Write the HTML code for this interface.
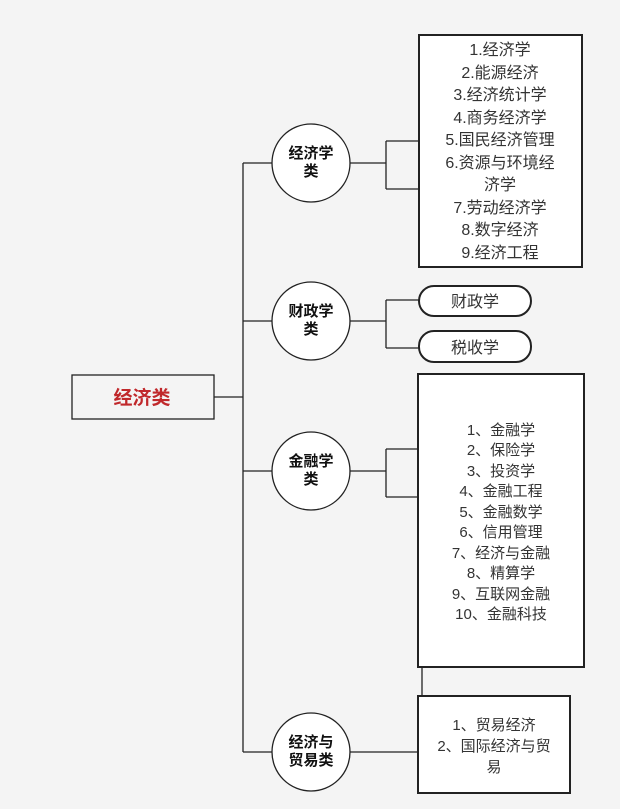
<!DOCTYPE html>
<html><head><meta charset="utf-8"><style>
body{margin:0;background:#f4f4f4;width:620px;height:804px;overflow:hidden}
text{font-family:"Liberation Sans","Noto Sans CJK SC",sans-serif}
</style></head><body>
<svg width="620" height="804" xmlns="http://www.w3.org/2000/svg">
<g stroke="#222" stroke-width="1.3" fill="none">
<path d="M214 397H243M243 163V752M243 163H272M243 321H272M243 471H272M243 752H272"/>
<path d="M350 163H386M386 141V189M386 141H419M386 189H419"/>
<path d="M350 321H386M386 300V348M386 300H419M386 348H419"/>
<path d="M350 471H386M386 449V497M386 449H418M386 497H418"/>
<path d="M350 752H418M422 667V696"/>
</g>
<g stroke="#222" stroke-width="2" fill="#fff">
<rect x="72" y="375" width="142" height="44" fill="#f4f4f4" stroke-width="1.3"/>
<circle cx="311" cy="163" r="39" stroke-width="1.3"/>
<circle cx="311" cy="321" r="39" stroke-width="1.3"/>
<circle cx="311" cy="471" r="39" stroke-width="1.3"/>
<circle cx="311" cy="752" r="39" stroke-width="1.3"/>
<rect x="419" y="35" width="163" height="232"/>
<rect x="419" y="286" width="112" height="30" rx="15"/>
<rect x="419" y="331" width="112" height="31" rx="15"/>
<rect x="418" y="374" width="166" height="293"/>
<rect x="418" y="696" width="152" height="97"/>
</g>
<text x="142" y="404" text-anchor="middle" font-size="19" font-weight="bold" fill="#c0282b">经济类</text>
<g font-size="15" font-weight="bold" fill="#111" text-anchor="middle">
<text x="311" y="158">经济学</text><text x="311" y="176">类</text>
<text x="311" y="316">财政学</text><text x="311" y="334">类</text>
<text x="311" y="466">金融学</text><text x="311" y="484">类</text>
<text x="311" y="747">经济与</text><text x="311" y="765">贸易类</text>
</g>
<g font-size="16" fill="#333" text-anchor="middle">
<text x="500" y="55">1.经济学</text>
<text x="500" y="78">2.能源经济</text>
<text x="500" y="100">3.经济统计学</text>
<text x="500" y="123">4.商务经济学</text>
<text x="500" y="145">5.国民经济管理</text>
<text x="500" y="168">6.资源与环境经</text>
<text x="500" y="190">济学</text>
<text x="500" y="213">7.劳动经济学</text>
<text x="500" y="235">8.数字经济</text>
<text x="500" y="258">9.经济工程</text>
<text x="475" y="307">财政学</text>
<text x="475" y="353">税收学</text>
</g>
<g font-size="15" fill="#333" text-anchor="middle">
<text x="501" y="435">1、金融学</text>
<text x="501" y="455">2、保险学</text>
<text x="501" y="476">3、投资学</text>
<text x="501" y="496">4、金融工程</text>
<text x="501" y="517">5、金融数学</text>
<text x="501" y="537">6、信用管理</text>
<text x="501" y="558">7、经济与金融</text>
<text x="501" y="578">8、精算学</text>
<text x="501" y="599">9、互联网金融</text>
<text x="501" y="619">10、金融科技</text>
<text x="494" y="730">1、贸易经济</text>
<text x="494" y="751">2、国际经济与贸</text>
<text x="494" y="772">易</text>
</g>
</svg>
</body></html>
